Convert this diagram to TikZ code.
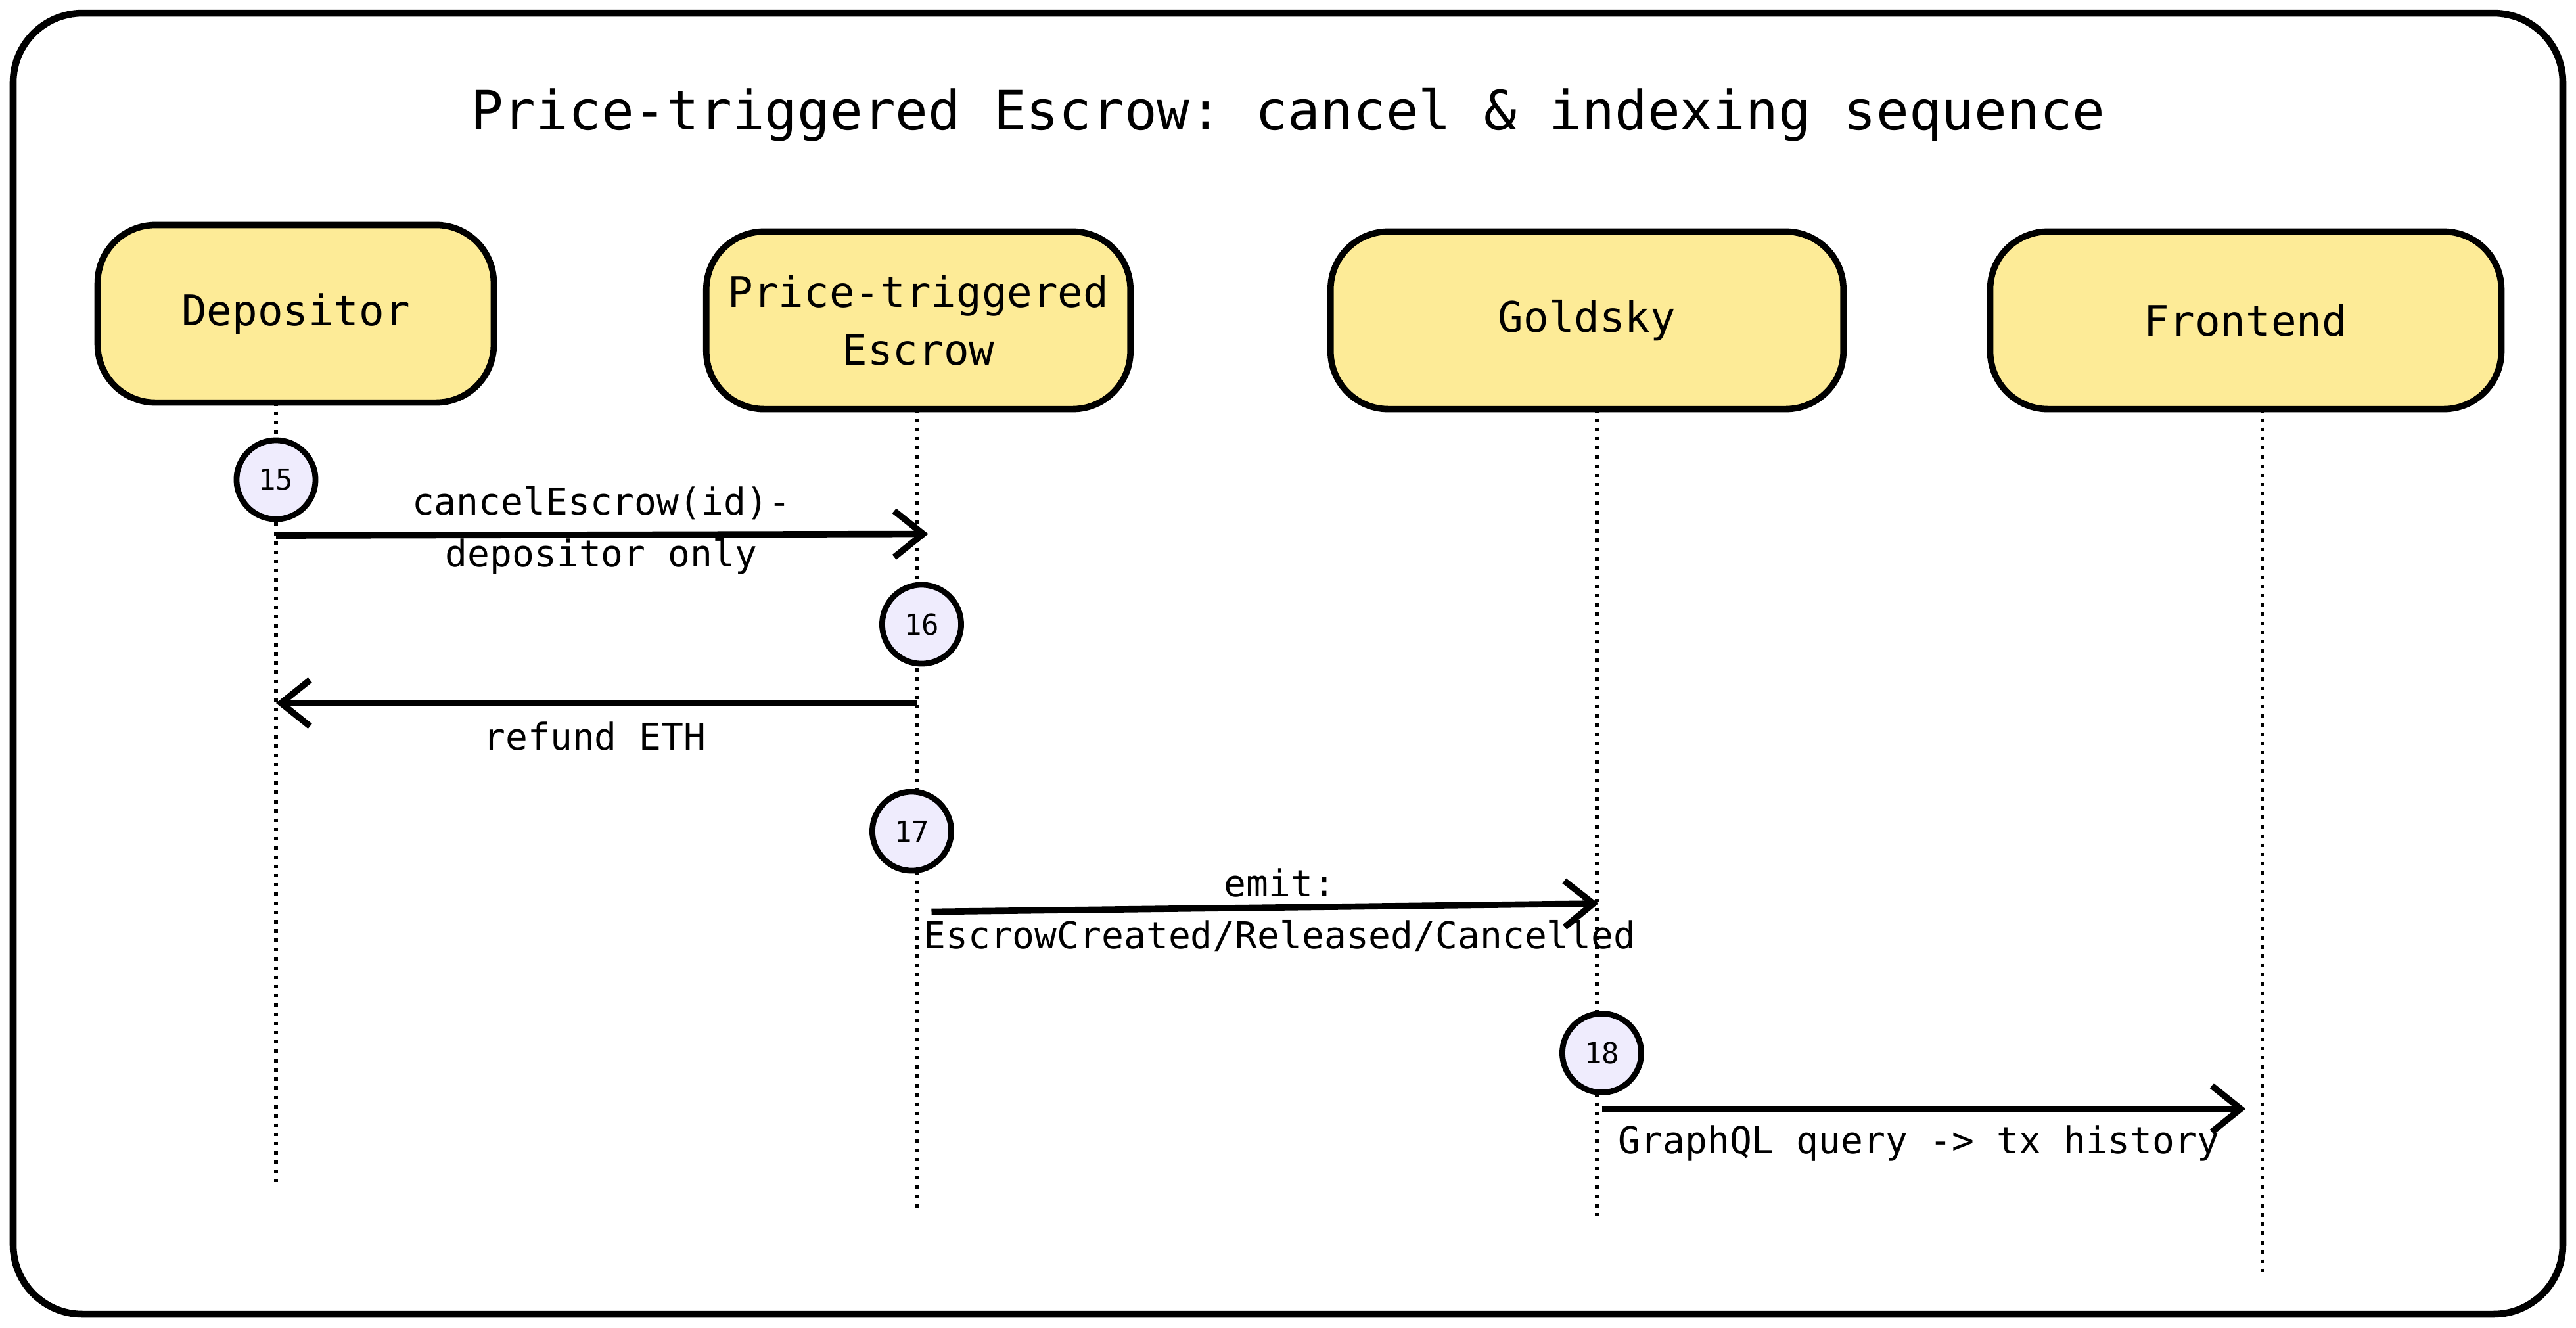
\documentclass[tikz,border=0pt]{standalone}
\usepackage{fontspec}
\setmonofont{DejaVu Sans Mono}
\usetikzlibrary{arrows.meta}
\definecolor{boxfill}{HTML}{FDEB97}
\definecolor{stepfill}{HTML}{EFECFD}

\begin{document}
\begin{tikzpicture}[x=0.01cm, y=-0.01cm, >={Straight Barb[length=5pt,width=8pt]},
    every node/.style={font=\ttfamily},
    actor/.style={draw, line width=1.1pt, fill=boxfill, rounded corners=10pt, align=center, font=\ttfamily\fontsize{7.3}{10}\selectfont},
    stepnum/.style={draw, circle, line width=1pt, fill=stepfill, minimum size=0.48cm, inner sep=0pt, font=\ttfamily\fontsize{5}{6}\selectfont},
    lifeline/.style={densely dotted, line width=0.6pt},
    msg/.style={->, line width=1.1pt},
    lbl/.style={align=center, font=\ttfamily\fontsize{6.4}{9}\selectfont}]
    % Frame and title
    \useasboundingbox (0,0) rectangle (1568,808);
    \draw [line width=1.2pt, rounded corners=12pt] (8,8) rectangle (1560,800);
    \node [font=\ttfamily\fontsize{9.4}{12}\selectfont] (title) at (784,70) {Price-triggered Escrow: cancel \& indexing sequence};

    % Actors
    \node [actor, minimum width=2.41cm, minimum height=1.08cm] (dep) at (180,191) {Depositor};
    \node [actor, minimum width=2.58cm, minimum height=1.08cm] (esc) at (559,195) {Price-triggered\\Escrow};
    \node [actor, minimum width=3.12cm, minimum height=1.08cm] (gold) at (966,195) {Goldsky};
    \node [actor, minimum width=3.11cm, minimum height=1.08cm] (front) at (1367,195) {Frontend};

    % Lifelines
    \coordinate (dtop) at (168,245);  \coordinate (dend) at (168,722);
    \coordinate (etop) at (558,249);  \coordinate (eend) at (558,738);
    \coordinate (gtop) at (972,249);  \coordinate (gend) at (972,740);
    \coordinate (ftop) at (1377,249); \coordinate (fend) at (1377,775);
    \draw [lifeline] (dtop) -- (dend);
    \draw [lifeline] (etop) -- (eend);
    \draw [lifeline] (gtop) -- (gend);
    \draw [lifeline] (ftop) -- (fend);

    % Steps
    \node [stepnum] (s15) at (168,292) {15};
    \node [stepnum] (s16) at (561,380) {16};
    \node [stepnum] (s17) at (555,506) {17};
    \node [stepnum] (s18) at (975,641) {18};

    % Messages
    \coordinate (m1a) at (168,326); \coordinate (m1b) at (565,325);
    \coordinate (m2a) at (558,428); \coordinate (m2b) at (168,428);
    \coordinate (m3a) at (567,555); \coordinate (m3b) at (973,550);
    \coordinate (m4a) at (975,675); \coordinate (m4b) at (1367,675);
    \draw [msg] (m1a) -- (m1b);
    \draw [msg] (m2a) -- (m2b);
    \draw [msg] (m3a) -- (m3b);
    \draw [msg] (m4a) -- (m4b);
    \node [lbl] (l1) at (366,323) {cancelEscrow(id)-\\depositor only};
    \node [lbl] (l2) at (362,448) {refund ETH};
    \node [lbl] (l3) at (779,554) {emit:\\EscrowCreated/Released/Cancelled};
    \node [lbl] (l4) at (1168,696) {GraphQL query -> tx history};
\end{tikzpicture}
\end{document}
